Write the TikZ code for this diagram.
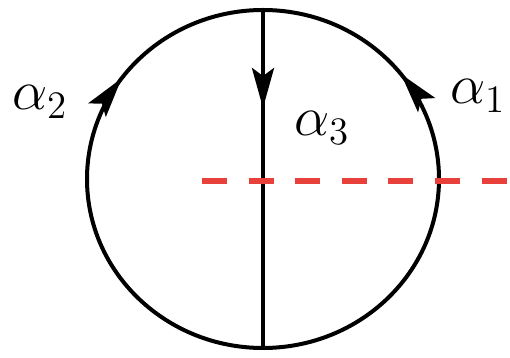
\documentclass[tikz,border=0pt]{standalone}
\usetikzlibrary{arrows.meta,decorations.markings}
\definecolor{cut}{HTML}{E8413C}
\tikzset{
  >=Stealth,
  edge/.style={line width=2pt,draw=black},
  midarrow/.style={postaction={decorate},decoration={markings,mark=at position #1 with {\arrow{Stealth[length=20pt,width=11pt,inset=4pt]}}}},
  cutline/.style={draw=cut,line width=2.6pt,dash pattern=on 12.5pt off 10.8pt},
  lbl/.style={font=\huge,scale=1.35,inner sep=0pt},
}
\begin{document}
\begin{tikzpicture}[x=0.5pt,y=0.5pt]
\useasboundingbox (0,0) rectangle (510,358);
% vertices of the theta graph
\coordinate (top) at (263,348);
\coordinate (bot) at (263,10);
\coordinate (cutL) at (202,177);
\coordinate (cutR) at (510,177);
% edges
\draw[edge,midarrow=0.70] (bot) arc[start angle=-90,end angle=-270,x radius=176,y radius=169];
\draw[edge,midarrow=0.71] (bot) arc[start angle=-90,end angle=90,x radius=176,y radius=169];
\draw[edge,midarrow=0.29] (top) -- (bot);
% cut
\draw[cutline] (cutL) -- (cutR);
% labels
\node[lbl] (a2) at (40,256) {$\alpha_2$};
\node[lbl] (a3) at (322,230) {$\alpha_3$};
\node[lbl] (a1) at (478,262) {$\alpha_1$};
\end{tikzpicture}
\end{document}
